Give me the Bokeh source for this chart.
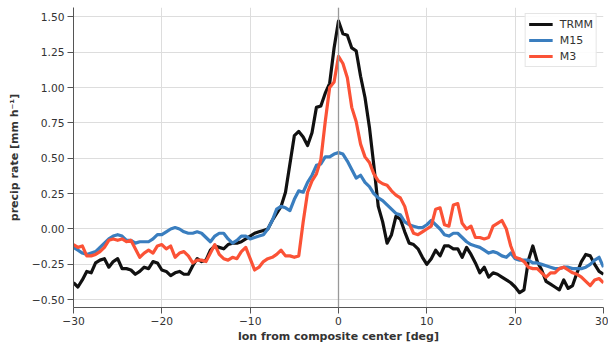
from bokeh.plotting import figure
from bokeh.models import Range1d, FixedTicker, Span, Legend, LegendItem
from bokeh.embed import file_html
from bokeh.resources import INLINE

# longitude grid (deg from composite centre), 0.5 deg spacing
lon = [i * 0.5 - 30.0 for i in range(121)]

trmm = [
    -0.38, -0.41, -0.36, -0.30, -0.31, -0.24, -0.22, -0.21, -0.27, -0.23,
    -0.21, -0.28, -0.28, -0.29, -0.32, -0.30, -0.27, -0.28, -0.23, -0.24,
    -0.29, -0.30, -0.33, -0.31, -0.30, -0.32, -0.32, -0.26, -0.21, -0.23,
    -0.22, -0.15, -0.12, -0.13, -0.14, -0.11, -0.10, -0.10, -0.09, -0.07,
    -0.05, -0.03, -0.02, -0.01, 0.00, 0.06, 0.11, 0.16, 0.26, 0.46,
    0.66, 0.69, 0.65, 0.59, 0.68, 0.86, 0.87, 0.96, 1.03, 1.28,
    1.47, 1.38, 1.37, 1.28, 1.26, 1.08, 0.93, 0.72, 0.45, 0.16,
    0.05, -0.10, -0.04, 0.09, 0.07, -0.02, -0.10, -0.11, -0.14, -0.20,
    -0.25, -0.21, -0.15, -0.19, -0.12, -0.12, -0.14, -0.14, -0.20, -0.13,
    -0.18, -0.24, -0.31, -0.27, -0.34, -0.31, -0.32, -0.34, -0.36, -0.38,
    -0.41, -0.45, -0.43, -0.22, -0.12, -0.23, -0.29, -0.37, -0.39, -0.41,
    -0.43, -0.36, -0.42, -0.40, -0.31, -0.23, -0.18, -0.19, -0.25, -0.30,
    -0.32,
]

m15 = [
    -0.13, -0.15, -0.17, -0.18, -0.17, -0.16, -0.13, -0.10, -0.07, -0.05,
    -0.04, -0.05, -0.08, -0.08, -0.10, -0.09, -0.09, -0.09, -0.07, -0.04,
    -0.04, -0.02, 0.00, 0.01, 0.00, -0.02, -0.03, -0.03, -0.02, -0.03,
    -0.06, -0.09, -0.05, -0.03, -0.03, -0.07, -0.10, -0.08, -0.05, -0.05,
    -0.07, -0.06, -0.05, -0.04, 0.00, 0.06, 0.14, 0.16, 0.15, 0.13,
    0.21, 0.27, 0.26, 0.33, 0.38, 0.45, 0.46, 0.51, 0.51, 0.53,
    0.54, 0.53, 0.48, 0.42, 0.36, 0.38, 0.33, 0.30, 0.25, 0.22,
    0.20, 0.17, 0.14, 0.11, 0.10, 0.05, 0.03, 0.02, 0.01, 0.01,
    0.03, 0.06, 0.03, 0.00, -0.04, -0.05, -0.03, -0.03, -0.06, -0.09,
    -0.11, -0.12, -0.13, -0.15, -0.17, -0.16, -0.17, -0.19, -0.20, -0.17,
    -0.21, -0.22, -0.22, -0.22, -0.24, -0.24, -0.25, -0.26, -0.27, -0.28,
    -0.28, -0.27, -0.27, -0.28, -0.28, -0.28, -0.27, -0.25, -0.22, -0.20,
    -0.27,
]

m3 = [
    -0.11, -0.13, -0.12, -0.19, -0.19, -0.18, -0.16, -0.13, -0.08, -0.07,
    -0.08, -0.07, -0.09, -0.08, -0.14, -0.20, -0.17, -0.15, -0.17, -0.12,
    -0.11, -0.14, -0.12, -0.20, -0.17, -0.16, -0.19, -0.24, -0.22, -0.22,
    -0.23, -0.17, -0.11, -0.18, -0.21, -0.22, -0.20, -0.21, -0.16, -0.13,
    -0.21, -0.29, -0.27, -0.23, -0.21, -0.20, -0.18, -0.15, -0.19, -0.19,
    -0.20, -0.19, 0.05, 0.26, 0.34, 0.39, 0.49, 0.76, 1.00, 1.04,
    1.22, 1.17, 1.07, 0.86, 0.76, 0.60, 0.51, 0.47, 0.39, 0.34,
    0.32, 0.31, 0.27, 0.24, 0.22, 0.16, 0.04, -0.03, -0.04, -0.02,
    0.00, 0.02, 0.14, 0.15, 0.03, 0.02, 0.17, 0.18, 0.04, 0.00,
    0.02, -0.06, -0.06, -0.07, -0.06, 0.02, 0.04, 0.06, 0.00, -0.12,
    -0.20, -0.21, -0.23, -0.27, -0.28, -0.28, -0.31, -0.34, -0.31, -0.31,
    -0.28, -0.27, -0.29, -0.31, -0.32, -0.34, -0.37, -0.40, -0.36, -0.35,
    -0.38,
]

series_names = ["TRMM", "M15", "M3"]
series_colors = ["#111111", "#3a7ebf", "#fb5236"]

x_ticks = [-30, -20, -10, 0, 10, 20, 30]
x_labels = ["\u221230", "\u221220", "\u221210", "0", "10", "20", "30"]
y_ticks = [-0.5, -0.25, 0.0, 0.25, 0.5, 0.75, 1.0, 1.25, 1.5]
y_labels = ["\u22120.50", "\u22120.25", "0.00", "0.25", "0.50", "0.75", "1.00", "1.25", "1.50"]

FONT = "DejaVu Sans"
TEXT = "#333333"

p = figure(
    width=608, height=345,
    output_backend="svg", toolbar_location=None,
    x_range=Range1d(-30, 30), y_range=Range1d(-0.555, 1.566),
    min_border_left=73, min_border_right=5, min_border_top=7, min_border_bottom=38,
)
p.outline_line_color = None
p.background_fill_color = "white"
p.border_fill_color = "white"

# axes
for ax in (p.xaxis[0], p.yaxis[0]):
    ax.axis_line_color = "#555555"
    ax.axis_line_width = 1
    ax.major_tick_line_color = "#555555"
    ax.major_tick_out = 6
    ax.major_tick_in = 0
    ax.minor_tick_line_color = None
    ax.major_label_standoff = 3
    ax.major_label_text_font = FONT
    ax.major_label_text_font_size = "10.7px"
    ax.major_label_text_color = TEXT
    ax.axis_label_text_font = FONT
    ax.axis_label_text_font_size = "11px"
    ax.axis_label_text_font_style = "bold"
    ax.axis_label_text_color = TEXT

p.xaxis.ticker = FixedTicker(ticks=x_ticks)
p.xaxis.major_label_overrides = {t: s for t, s in zip(x_ticks, x_labels)}
p.yaxis.ticker = FixedTicker(ticks=y_ticks)
p.yaxis.major_label_overrides = {t: s for t, s in zip(y_ticks, y_labels)}
p.xaxis.axis_label = "lon from composite center [deg]"
p.yaxis.axis_label = "precip rate [mm h\u207b\u00b9]"
p.xaxis.axis_label_standoff = 2
p.yaxis.axis_label_standoff = 8

p.xgrid.grid_line_color = "#dddddd"
p.ygrid.grid_line_color = "#dddddd"
p.xgrid.grid_line_width = 1
p.ygrid.grid_line_width = 1

# centre reference line
p.add_layout(Span(location=0, dimension="height", line_color="#999999", line_width=1.3))

items = []
for name, color, ys in zip(series_names, series_colors, [trmm, m15, m3]):
    r = p.line(lon, ys, line_color=color, line_width=3.2, line_join="round")
    items.append(LegendItem(label=name, renderers=[r]))

legend = Legend(
    items=items, location="top_right",
    label_text_font=FONT, label_text_font_size="11px", label_text_color=TEXT,
    border_line_color="#cccccc", border_line_width=1,
    background_fill_color="white", background_fill_alpha=0.9,
    glyph_width=24, glyph_height=14, spacing=2, padding=3, margin=6,
    label_standoff=7,
)
p.add_layout(legend)

open("out.html", "w").write(file_html(p, INLINE))
